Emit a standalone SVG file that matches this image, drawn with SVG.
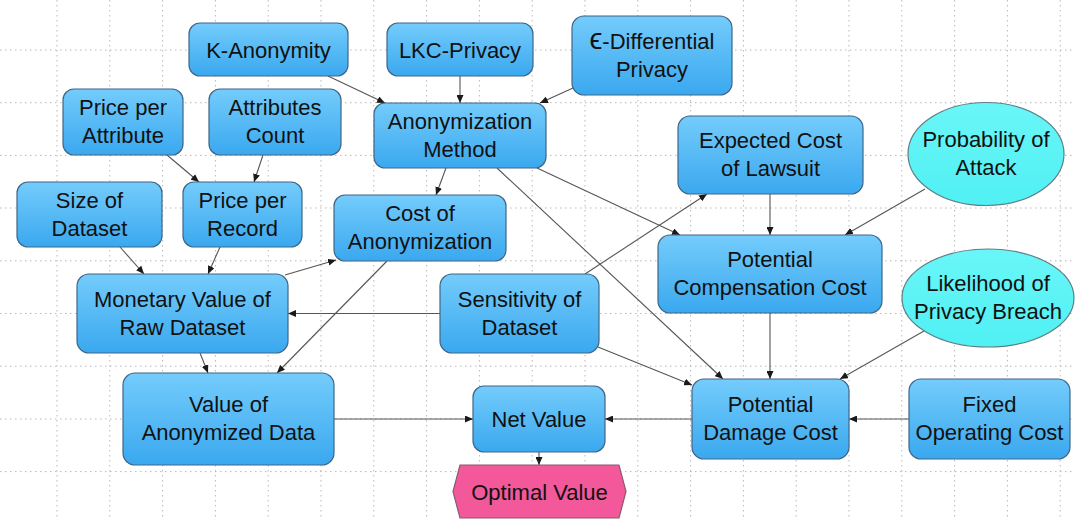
<svg xmlns="http://www.w3.org/2000/svg" width="1075" height="520" viewBox="0 0 1075 520">
  <style>
    .grid line { stroke: #b8b8b8; stroke-width: 1; stroke-dasharray: 1.5 3.5; }
    .node rect { fill: url(#blueFill); stroke: #3f6688; stroke-width: 1.2; }
    .oval ellipse { fill: url(#cyanFill); stroke: #5b7f85; stroke-width: 1.2; }
    .goal polygon { fill: #f2589a; stroke: #8a5a70; stroke-width: 1.2; }
    text { font-family: "Liberation Sans", Arial, sans-serif; font-size: 22px; fill: #111111; text-anchor: middle; }
    .edges line { stroke: #555; stroke-width: 1.1; marker-end: url(#arrow); }
  </style>
  <defs>
    <linearGradient id="blueFill" x1="0" y1="0" x2="0" y2="1">
      <stop offset="0" stop-color="#74ccfb"/>
      <stop offset="1" stop-color="#3aa8ef"/>
    </linearGradient>
    <linearGradient id="cyanFill" x1="0" y1="0" x2="0" y2="1">
      <stop offset="0" stop-color="#6af6f8"/>
      <stop offset="1" stop-color="#50f0f3"/>
    </linearGradient>
    <marker id="arrow" markerUnits="userSpaceOnUse" markerWidth="9" markerHeight="7" refX="8" refY="3.5" orient="auto">
      <path d="M0,0 L8,3.5 L0,7 z" fill="#1a1a1a"/>
    </marker>
  </defs>

  <rect width="1075" height="520" fill="#ffffff"/>

  <!-- dotted background grid -->
  <g class="grid">
    <line x1="57" y1="0" x2="57" y2="520"/>
    <line x1="109.8" y1="0" x2="109.8" y2="520"/>
    <line x1="162.6" y1="0" x2="162.6" y2="520"/>
    <line x1="215.4" y1="0" x2="215.4" y2="520"/>
    <line x1="268.2" y1="0" x2="268.2" y2="520"/>
    <line x1="321" y1="0" x2="321" y2="520"/>
    <line x1="373.8" y1="0" x2="373.8" y2="520"/>
    <line x1="426.6" y1="0" x2="426.6" y2="520"/>
    <line x1="479.4" y1="0" x2="479.4" y2="520"/>
    <line x1="532.2" y1="0" x2="532.2" y2="520"/>
    <line x1="585" y1="0" x2="585" y2="520"/>
    <line x1="637.8" y1="0" x2="637.8" y2="520"/>
    <line x1="690.6" y1="0" x2="690.6" y2="520"/>
    <line x1="743.4" y1="0" x2="743.4" y2="520"/>
    <line x1="796.2" y1="0" x2="796.2" y2="520"/>
    <line x1="849" y1="0" x2="849" y2="520"/>
    <line x1="901.8" y1="0" x2="901.8" y2="520"/>
    <line x1="954.6" y1="0" x2="954.6" y2="520"/>
    <line x1="1007.4" y1="0" x2="1007.4" y2="520"/>
    <line x1="1060.2" y1="0" x2="1060.2" y2="520"/>
    <line x1="0" y1="50" x2="1075" y2="50"/>
    <line x1="0" y1="102.7" x2="1075" y2="102.7"/>
    <line x1="0" y1="155.4" x2="1075" y2="155.4"/>
    <line x1="0" y1="208" x2="1075" y2="208"/>
    <line x1="0" y1="260.8" x2="1075" y2="260.8"/>
    <line x1="0" y1="313.5" x2="1075" y2="313.5"/>
    <line x1="0" y1="366.2" x2="1075" y2="366.2"/>
    <line x1="0" y1="419" x2="1075" y2="419"/>
    <line x1="0" y1="471.6" x2="1075" y2="471.6"/>
  </g>

  <!-- connectors -->
  <g id="edges" class="edges">
    <line x1="328" y1="76" x2="385" y2="103"/>
    <line x1="460" y1="76" x2="460" y2="103"/>
    <line x1="573" y1="88" x2="540" y2="103"/>
    <line x1="167" y1="155" x2="199" y2="182"/>
    <line x1="263" y1="155" x2="254" y2="182"/>
    <line x1="120" y1="247" x2="144" y2="274"/>
    <line x1="220" y1="247" x2="208" y2="274"/>
    <line x1="285" y1="275" x2="336" y2="260"/>
    <line x1="446" y1="168" x2="436" y2="195"/>
    <line x1="387" y1="261" x2="277" y2="373"/>
    <line x1="200" y1="353" x2="208" y2="373"/>
    <line x1="440" y1="313.5" x2="288" y2="313.5"/>
    <line x1="585" y1="274" x2="707" y2="194"/>
    <line x1="537" y1="168" x2="680" y2="235"/>
    <line x1="497" y1="168" x2="723" y2="379"/>
    <line x1="598" y1="347" x2="692" y2="385"/>
    <line x1="770" y1="194" x2="770" y2="235"/>
    <line x1="925" y1="189" x2="845" y2="235"/>
    <line x1="770" y1="313" x2="770" y2="379"/>
    <line x1="924" y1="331" x2="840" y2="379"/>
    <line x1="909" y1="419" x2="849" y2="419"/>
    <line x1="692" y1="419" x2="605" y2="419"/>
    <line x1="334" y1="419" x2="473" y2="419"/>
    <line x1="539" y1="452" x2="539" y2="465"/>
  </g>

  <!-- nodes -->
  <g id="k-anonymity" class="node">
    <rect x="189" y="23" width="159" height="53" rx="11"/>
    <text x="268.5" y="57.5">K-Anonymity</text>
  </g>
  <g id="lkc-privacy" class="node">
    <rect x="387" y="23" width="146" height="53" rx="11"/>
    <text x="460" y="57.5">LKC-Privacy</text>
  </g>
  <g id="differential-privacy" class="node">
    <rect x="572" y="16" width="160" height="79" rx="12"/>
    <text x="652" y="48.5"><tspan font-size="29">ϵ</tspan>-Differential</text>
    <text x="652" y="76.5">Privacy</text>
  </g>
  <g id="price-per-attribute" class="node">
    <rect x="63" y="89" width="120" height="66" rx="11"/>
    <text x="123" y="115">Price per</text>
    <text x="123" y="143">Attribute</text>
  </g>
  <g id="attributes-count" class="node">
    <rect x="209" y="89" width="132" height="66" rx="11"/>
    <text x="275" y="115">Attributes</text>
    <text x="275" y="143">Count</text>
  </g>
  <g id="anonymization-method" class="node">
    <rect x="374" y="103" width="172" height="65" rx="11"/>
    <text x="460" y="128.5">Anonymization</text>
    <text x="460" y="156.5">Method</text>
  </g>
  <g id="expected-cost-of-lawsuit" class="node">
    <rect x="678" y="116" width="185" height="78" rx="12"/>
    <text x="770.5" y="148">Expected Cost</text>
    <text x="770.5" y="176">of Lawsuit</text>
  </g>
  <g id="probability-of-attack" class="oval">
    <ellipse cx="986" cy="154" rx="78" ry="51.5"/>
    <text x="986" y="147">Probability of</text>
    <text x="986" y="175">Attack</text>
  </g>
  <g id="size-of-dataset" class="node">
    <rect x="17" y="182" width="145" height="65" rx="11"/>
    <text x="89.5" y="207.5">Size of</text>
    <text x="89.5" y="235.5">Dataset</text>
  </g>
  <g id="price-per-record" class="node">
    <rect x="183" y="182" width="119" height="65" rx="11"/>
    <text x="242.5" y="207.5">Price per</text>
    <text x="242.5" y="235.5">Record</text>
  </g>
  <g id="cost-of-anonymization" class="node">
    <rect x="334" y="195" width="172" height="66" rx="11"/>
    <text x="420" y="221">Cost of</text>
    <text x="420" y="249">Anonymization</text>
  </g>
  <g id="potential-compensation-cost" class="node">
    <rect x="658" y="235" width="224" height="78" rx="12"/>
    <text x="770" y="267">Potential</text>
    <text x="770" y="295">Compensation Cost</text>
  </g>
  <g id="likelihood-of-privacy-breach" class="oval">
    <ellipse cx="988" cy="298" rx="86" ry="49"/>
    <text x="988" y="291">Likelihood of</text>
    <text x="988" y="319">Privacy Breach</text>
  </g>
  <g id="monetary-value-of-raw-dataset" class="node">
    <rect x="77" y="274" width="211" height="79" rx="12"/>
    <text x="182.5" y="306.5">Monetary Value of</text>
    <text x="182.5" y="334.5">Raw Dataset</text>
  </g>
  <g id="sensitivity-of-dataset" class="node">
    <rect x="440" y="274" width="159" height="79" rx="12"/>
    <text x="519.5" y="306.5">Sensitivity of</text>
    <text x="519.5" y="334.5">Dataset</text>
  </g>
  <g id="value-of-anonymized-data" class="node">
    <rect x="123" y="373" width="211" height="92" rx="12"/>
    <text x="228.5" y="412">Value of</text>
    <text x="228.5" y="440">Anonymized Data</text>
  </g>
  <g id="net-value" class="node">
    <rect x="473" y="386" width="132" height="66" rx="11"/>
    <text x="539" y="427">Net Value</text>
  </g>
  <g id="potential-damage-cost" class="node">
    <rect x="692" y="379" width="157" height="80" rx="12"/>
    <text x="770.5" y="412">Potential</text>
    <text x="770.5" y="440">Damage Cost</text>
  </g>
  <g id="fixed-operating-cost" class="node">
    <rect x="909" y="379" width="161" height="80" rx="12"/>
    <text x="989.5" y="412">Fixed</text>
    <text x="989.5" y="440">Operating Cost</text>
  </g>
  <g id="optimal-value" class="goal">
    <polygon points="453,491.5 460,465 619,465 626,491.5 619,518 460,518"/>
    <text x="539.5" y="499.5">Optimal Value</text>
  </g>
</svg>
